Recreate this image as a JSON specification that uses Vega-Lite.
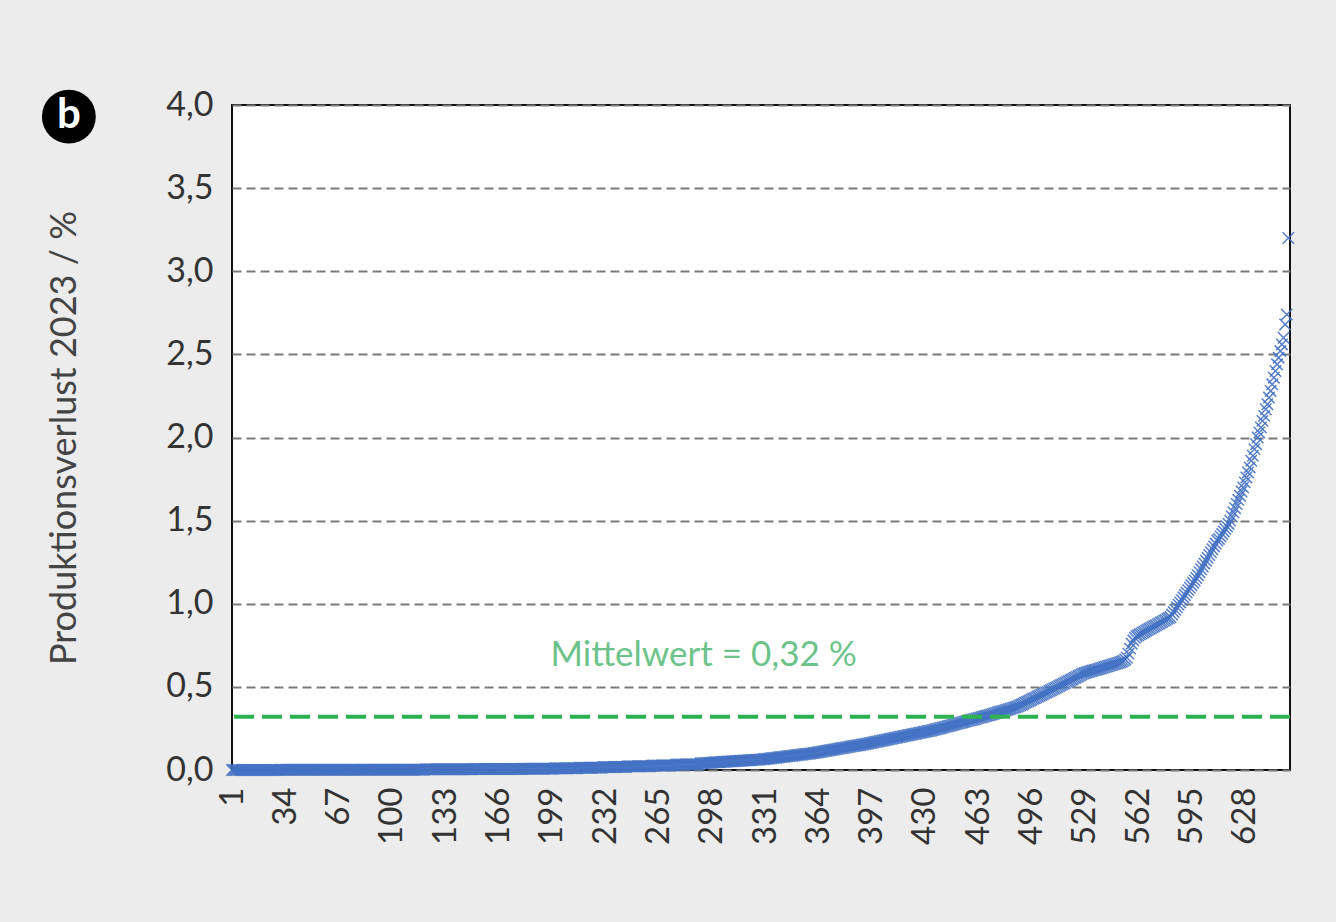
{
"$schema":"https://vega.github.io/schema/vega-lite/v6.json",
"width":1058,"height":665,
"autosize":{"type":"none"},
"padding":{"left":232,"top":105,"right":46,"bottom":152},
"background":"#ececec",
"config":{"view":{"fill":"white","stroke":"#111111","strokeWidth":2},"font":"Lato"},
"layer":[
{"data":{"values":[
{"n":1,"v":0},{"n":2,"v":0},{"n":3,"v":0},{"n":4,"v":0},{"n":5,"v":0},{"n":6,"v":0},{"n":7,"v":0},{"n":8,"v":0},{"n":9,"v":0},{"n":10,"v":0},
{"n":11,"v":0},{"n":12,"v":0},{"n":13,"v":0},{"n":14,"v":0},{"n":15,"v":0},{"n":16,"v":0},{"n":17,"v":0},{"n":18,"v":0},{"n":19,"v":0},{"n":20,"v":0},
{"n":21,"v":0},{"n":22,"v":0},{"n":23,"v":0},{"n":24,"v":0},{"n":25,"v":0},{"n":26,"v":0},{"n":27,"v":0},{"n":28,"v":0},{"n":29,"v":0},{"n":30,"v":0},
{"n":31,"v":0.001},{"n":32,"v":0.001},{"n":33,"v":0.001},{"n":34,"v":0.001},{"n":35,"v":0.001},{"n":36,"v":0.001},{"n":37,"v":0.001},{"n":38,"v":0.001},{"n":39,"v":0.001},{"n":40,"v":0.001},
{"n":41,"v":0.001},{"n":42,"v":0.001},{"n":43,"v":0.001},{"n":44,"v":0.001},{"n":45,"v":0.001},{"n":46,"v":0.001},{"n":47,"v":0.001},{"n":48,"v":0.001},{"n":49,"v":0.001},{"n":50,"v":0.001},
{"n":51,"v":0.001},{"n":52,"v":0.001},{"n":53,"v":0.001},{"n":54,"v":0.001},{"n":55,"v":0.001},{"n":56,"v":0.001},{"n":57,"v":0.001},{"n":58,"v":0.001},{"n":59,"v":0.001},{"n":60,"v":0.001},
{"n":61,"v":0.001},{"n":62,"v":0.001},{"n":63,"v":0.001},{"n":64,"v":0.001},{"n":65,"v":0.001},{"n":66,"v":0.001},{"n":67,"v":0.001},{"n":68,"v":0.001},{"n":69,"v":0.001},{"n":70,"v":0.001},
{"n":71,"v":0.001},{"n":72,"v":0.001},{"n":73,"v":0.001},{"n":74,"v":0.001},{"n":75,"v":0.001},{"n":76,"v":0.001},{"n":77,"v":0.001},{"n":78,"v":0.001},{"n":79,"v":0.001},{"n":80,"v":0.001},
{"n":81,"v":0.002},{"n":82,"v":0.002},{"n":83,"v":0.002},{"n":84,"v":0.002},{"n":85,"v":0.002},{"n":86,"v":0.002},{"n":87,"v":0.002},{"n":88,"v":0.002},{"n":89,"v":0.002},{"n":90,"v":0.002},
{"n":91,"v":0.002},{"n":92,"v":0.002},{"n":93,"v":0.002},{"n":94,"v":0.002},{"n":95,"v":0.002},{"n":96,"v":0.002},{"n":97,"v":0.002},{"n":98,"v":0.002},{"n":99,"v":0.002},{"n":100,"v":0.002},
{"n":101,"v":0.002},{"n":102,"v":0.002},{"n":103,"v":0.002},{"n":104,"v":0.002},{"n":105,"v":0.002},{"n":106,"v":0.002},{"n":107,"v":0.002},{"n":108,"v":0.002},{"n":109,"v":0.002},{"n":110,"v":0.002},
{"n":111,"v":0.002},{"n":112,"v":0.002},{"n":113,"v":0.002},{"n":114,"v":0.002},{"n":115,"v":0.002},{"n":116,"v":0.002},{"n":117,"v":0.002},{"n":118,"v":0.002},{"n":119,"v":0.002},{"n":120,"v":0.002},
{"n":121,"v":0.004},{"n":122,"v":0.004},{"n":123,"v":0.004},{"n":124,"v":0.004},{"n":125,"v":0.004},{"n":126,"v":0.004},{"n":127,"v":0.004},{"n":128,"v":0.004},{"n":129,"v":0.004},{"n":130,"v":0.004},
{"n":131,"v":0.004},{"n":132,"v":0.004},{"n":133,"v":0.004},{"n":134,"v":0.004},{"n":135,"v":0.004},{"n":136,"v":0.004},{"n":137,"v":0.004},{"n":138,"v":0.004},{"n":139,"v":0.004},{"n":140,"v":0.004},
{"n":141,"v":0.004},{"n":142,"v":0.004},{"n":143,"v":0.004},{"n":144,"v":0.004},{"n":145,"v":0.004},{"n":146,"v":0.004},{"n":147,"v":0.004},{"n":148,"v":0.004},{"n":149,"v":0.004},{"n":150,"v":0.004},
{"n":151,"v":0.006},{"n":152,"v":0.006},{"n":153,"v":0.006},{"n":154,"v":0.006},{"n":155,"v":0.006},{"n":156,"v":0.006},{"n":157,"v":0.006},{"n":158,"v":0.006},{"n":159,"v":0.006},{"n":160,"v":0.006},
{"n":161,"v":0.006},{"n":162,"v":0.006},{"n":163,"v":0.006},{"n":164,"v":0.006},{"n":165,"v":0.006},{"n":166,"v":0.006},{"n":167,"v":0.006},{"n":168,"v":0.006},{"n":169,"v":0.006},{"n":170,"v":0.006},
{"n":171,"v":0.006},{"n":172,"v":0.006},{"n":173,"v":0.006},{"n":174,"v":0.006},{"n":175,"v":0.006},{"n":176,"v":0.006},{"n":177,"v":0.006},{"n":178,"v":0.006},{"n":179,"v":0.006},{"n":180,"v":0.006},
{"n":181,"v":0.008},{"n":182,"v":0.008},{"n":183,"v":0.008},{"n":184,"v":0.008},{"n":185,"v":0.008},{"n":186,"v":0.008},{"n":187,"v":0.008},{"n":188,"v":0.008},{"n":189,"v":0.008},{"n":190,"v":0.008},
{"n":191,"v":0.008},{"n":192,"v":0.008},{"n":193,"v":0.008},{"n":194,"v":0.008},{"n":195,"v":0.008},{"n":196,"v":0.008},{"n":197,"v":0.008},{"n":198,"v":0.008},{"n":199,"v":0.008},{"n":200,"v":0.008},
{"n":201,"v":0.01},{"n":202,"v":0.01},{"n":203,"v":0.01},{"n":204,"v":0.01},{"n":205,"v":0.01},{"n":206,"v":0.01},{"n":207,"v":0.01},{"n":208,"v":0.01},{"n":209,"v":0.01},{"n":210,"v":0.01},
{"n":211,"v":0.01},{"n":212,"v":0.01},{"n":213,"v":0.01},{"n":214,"v":0.01},{"n":215,"v":0.01},{"n":216,"v":0.014},{"n":217,"v":0.014},{"n":218,"v":0.014},{"n":219,"v":0.014},{"n":220,"v":0.014},
{"n":221,"v":0.014},{"n":222,"v":0.014},{"n":223,"v":0.014},{"n":224,"v":0.014},{"n":225,"v":0.014},{"n":226,"v":0.014},{"n":227,"v":0.014},{"n":228,"v":0.014},{"n":229,"v":0.014},{"n":230,"v":0.014},
{"n":231,"v":0.018},{"n":232,"v":0.018},{"n":233,"v":0.018},{"n":234,"v":0.018},{"n":235,"v":0.018},{"n":236,"v":0.018},{"n":237,"v":0.018},{"n":238,"v":0.018},{"n":239,"v":0.018},{"n":240,"v":0.018},
{"n":241,"v":0.018},{"n":242,"v":0.018},{"n":243,"v":0.018},{"n":244,"v":0.018},{"n":245,"v":0.018},{"n":246,"v":0.022},{"n":247,"v":0.022},{"n":248,"v":0.022},{"n":249,"v":0.022},{"n":250,"v":0.022},
{"n":251,"v":0.022},{"n":252,"v":0.022},{"n":253,"v":0.022},{"n":254,"v":0.022},{"n":255,"v":0.022},{"n":256,"v":0.022},{"n":257,"v":0.022},{"n":258,"v":0.022},{"n":259,"v":0.022},{"n":260,"v":0.022},
{"n":261,"v":0.027},{"n":262,"v":0.027},{"n":263,"v":0.027},{"n":264,"v":0.027},{"n":265,"v":0.027},{"n":266,"v":0.027},{"n":267,"v":0.027},{"n":268,"v":0.027},{"n":269,"v":0.027},{"n":270,"v":0.027},
{"n":271,"v":0.027},{"n":272,"v":0.027},{"n":273,"v":0.027},{"n":274,"v":0.027},{"n":275,"v":0.027},{"n":276,"v":0.033},{"n":277,"v":0.033},{"n":278,"v":0.033},{"n":279,"v":0.033},{"n":280,"v":0.033},
{"n":281,"v":0.033},{"n":282,"v":0.033},{"n":283,"v":0.033},{"n":284,"v":0.033},{"n":285,"v":0.033},{"n":286,"v":0.033},{"n":287,"v":0.033},{"n":288,"v":0.033},{"n":289,"v":0.033},{"n":290,"v":0.033},
{"n":291,"v":0.040},{"n":292,"v":0.041},{"n":293,"v":0.041},{"n":294,"v":0.042},{"n":295,"v":0.042},{"n":296,"v":0.043},{"n":297,"v":0.044},{"n":298,"v":0.044},{"n":299,"v":0.045},{"n":300,"v":0.046},
{"n":301,"v":0.046},{"n":302,"v":0.047},{"n":303,"v":0.047},{"n":304,"v":0.048},{"n":305,"v":0.049},{"n":306,"v":0.049},{"n":307,"v":0.050},{"n":308,"v":0.051},{"n":309,"v":0.051},{"n":310,"v":0.052},
{"n":311,"v":0.052},{"n":312,"v":0.053},{"n":313,"v":0.054},{"n":314,"v":0.054},{"n":315,"v":0.055},{"n":316,"v":0.056},{"n":317,"v":0.056},{"n":318,"v":0.057},{"n":319,"v":0.057},{"n":320,"v":0.058},
{"n":321,"v":0.059},{"n":322,"v":0.059},{"n":323,"v":0.060},{"n":324,"v":0.061},{"n":325,"v":0.061},{"n":326,"v":0.062},{"n":327,"v":0.062},{"n":328,"v":0.063},{"n":329,"v":0.064},{"n":330,"v":0.065},
{"n":331,"v":0.066},{"n":332,"v":0.067},{"n":333,"v":0.068},{"n":334,"v":0.069},{"n":335,"v":0.071},{"n":336,"v":0.072},{"n":337,"v":0.073},{"n":338,"v":0.074},{"n":339,"v":0.075},{"n":340,"v":0.077},
{"n":341,"v":0.078},{"n":342,"v":0.079},{"n":343,"v":0.080},{"n":344,"v":0.081},{"n":345,"v":0.083},{"n":346,"v":0.084},{"n":347,"v":0.085},{"n":348,"v":0.086},{"n":349,"v":0.087},{"n":350,"v":0.089},
{"n":351,"v":0.090},{"n":352,"v":0.091},{"n":353,"v":0.092},{"n":354,"v":0.093},{"n":355,"v":0.095},{"n":356,"v":0.096},{"n":357,"v":0.097},{"n":358,"v":0.098},{"n":359,"v":0.099},{"n":360,"v":0.100},
{"n":361,"v":0.102},{"n":362,"v":0.103},{"n":363,"v":0.105},{"n":364,"v":0.107},{"n":365,"v":0.108},{"n":366,"v":0.110},{"n":367,"v":0.112},{"n":368,"v":0.114},{"n":369,"v":0.115},{"n":370,"v":0.117},
{"n":371,"v":0.119},{"n":372,"v":0.120},{"n":373,"v":0.122},{"n":374,"v":0.124},{"n":375,"v":0.125},{"n":376,"v":0.127},{"n":377,"v":0.129},{"n":378,"v":0.131},{"n":379,"v":0.132},{"n":380,"v":0.134},
{"n":381,"v":0.136},{"n":382,"v":0.137},{"n":383,"v":0.139},{"n":384,"v":0.141},{"n":385,"v":0.143},{"n":386,"v":0.144},{"n":387,"v":0.146},{"n":388,"v":0.148},{"n":389,"v":0.149},{"n":390,"v":0.151},
{"n":391,"v":0.153},{"n":392,"v":0.154},{"n":393,"v":0.156},{"n":394,"v":0.158},{"n":395,"v":0.160},{"n":396,"v":0.162},{"n":397,"v":0.164},{"n":398,"v":0.166},{"n":399,"v":0.168},{"n":400,"v":0.170},
{"n":401,"v":0.172},{"n":402,"v":0.174},{"n":403,"v":0.176},{"n":404,"v":0.178},{"n":405,"v":0.180},{"n":406,"v":0.182},{"n":407,"v":0.184},{"n":408,"v":0.186},{"n":409,"v":0.188},{"n":410,"v":0.190},
{"n":411,"v":0.192},{"n":412,"v":0.194},{"n":413,"v":0.196},{"n":414,"v":0.198},{"n":415,"v":0.200},{"n":416,"v":0.202},{"n":417,"v":0.204},{"n":418,"v":0.206},{"n":419,"v":0.208},{"n":420,"v":0.210},
{"n":421,"v":0.212},{"n":422,"v":0.214},{"n":423,"v":0.216},{"n":424,"v":0.218},{"n":425,"v":0.220},{"n":426,"v":0.222},{"n":427,"v":0.224},{"n":428,"v":0.226},{"n":429,"v":0.228},{"n":430,"v":0.230},
{"n":431,"v":0.232},{"n":432,"v":0.234},{"n":433,"v":0.236},{"n":434,"v":0.238},{"n":435,"v":0.240},{"n":436,"v":0.243},{"n":437,"v":0.245},{"n":438,"v":0.248},{"n":439,"v":0.250},{"n":440,"v":0.253},
{"n":441,"v":0.256},{"n":442,"v":0.258},{"n":443,"v":0.261},{"n":444,"v":0.263},{"n":445,"v":0.266},{"n":446,"v":0.268},{"n":447,"v":0.271},{"n":448,"v":0.274},{"n":449,"v":0.276},{"n":450,"v":0.279},
{"n":451,"v":0.281},{"n":452,"v":0.284},{"n":453,"v":0.286},{"n":454,"v":0.289},{"n":455,"v":0.292},{"n":456,"v":0.294},{"n":457,"v":0.297},{"n":458,"v":0.299},{"n":459,"v":0.302},{"n":460,"v":0.304},
{"n":461,"v":0.307},{"n":462,"v":0.310},{"n":463,"v":0.312},{"n":464,"v":0.315},{"n":465,"v":0.317},{"n":466,"v":0.320},{"n":467,"v":0.323},{"n":468,"v":0.326},{"n":469,"v":0.328},{"n":470,"v":0.331},
{"n":471,"v":0.334},{"n":472,"v":0.337},{"n":473,"v":0.340},{"n":474,"v":0.343},{"n":475,"v":0.346},{"n":476,"v":0.349},{"n":477,"v":0.352},{"n":478,"v":0.354},{"n":479,"v":0.357},{"n":480,"v":0.360},
{"n":481,"v":0.363},{"n":482,"v":0.366},{"n":483,"v":0.369},{"n":484,"v":0.372},{"n":485,"v":0.375},{"n":486,"v":0.377},{"n":487,"v":0.380},{"n":488,"v":0.385},{"n":489,"v":0.390},{"n":490,"v":0.394},
{"n":491,"v":0.399},{"n":492,"v":0.404},{"n":493,"v":0.409},{"n":494,"v":0.413},{"n":495,"v":0.418},{"n":496,"v":0.423},{"n":497,"v":0.428},{"n":498,"v":0.432},{"n":499,"v":0.437},{"n":500,"v":0.442},
{"n":501,"v":0.447},{"n":502,"v":0.451},{"n":503,"v":0.456},{"n":504,"v":0.461},{"n":505,"v":0.466},{"n":506,"v":0.470},{"n":507,"v":0.475},{"n":508,"v":0.480},{"n":509,"v":0.485},{"n":510,"v":0.490},
{"n":511,"v":0.495},{"n":512,"v":0.500},{"n":513,"v":0.505},{"n":514,"v":0.510},{"n":515,"v":0.515},{"n":516,"v":0.520},{"n":517,"v":0.525},{"n":518,"v":0.530},{"n":519,"v":0.535},{"n":520,"v":0.540},
{"n":521,"v":0.545},{"n":522,"v":0.550},{"n":523,"v":0.555},{"n":524,"v":0.560},{"n":525,"v":0.565},{"n":526,"v":0.570},{"n":527,"v":0.575},{"n":528,"v":0.580},{"n":529,"v":0.583},{"n":530,"v":0.586},
{"n":531,"v":0.589},{"n":532,"v":0.592},{"n":533,"v":0.595},{"n":534,"v":0.598},{"n":535,"v":0.601},{"n":536,"v":0.603},{"n":537,"v":0.606},{"n":538,"v":0.609},{"n":539,"v":0.612},{"n":540,"v":0.615},
{"n":541,"v":0.618},{"n":542,"v":0.621},{"n":543,"v":0.624},{"n":544,"v":0.627},{"n":545,"v":0.630},{"n":546,"v":0.633},{"n":547,"v":0.636},{"n":548,"v":0.639},{"n":549,"v":0.642},{"n":550,"v":0.645},
{"n":551,"v":0.648},{"n":552,"v":0.652},{"n":553,"v":0.658},{"n":554,"v":0.665},{"n":555,"v":0.675},{"n":556,"v":0.700},{"n":557,"v":0.730},{"n":558,"v":0.760},{"n":559,"v":0.780},{"n":560,"v":0.795},
{"n":561,"v":0.805},{"n":562,"v":0.810},{"n":563,"v":0.816},{"n":564,"v":0.821},{"n":565,"v":0.827},{"n":566,"v":0.832},{"n":567,"v":0.838},{"n":568,"v":0.843},{"n":569,"v":0.849},{"n":570,"v":0.854},
{"n":571,"v":0.860},{"n":572,"v":0.865},{"n":573,"v":0.870},{"n":574,"v":0.876},{"n":575,"v":0.881},{"n":576,"v":0.887},{"n":577,"v":0.892},{"n":578,"v":0.898},{"n":579,"v":0.903},{"n":580,"v":0.909},
{"n":581,"v":0.914},{"n":582,"v":0.920},{"n":583,"v":0.935},{"n":584,"v":0.950},{"n":585,"v":0.964},{"n":586,"v":0.979},{"n":587,"v":0.994},{"n":588,"v":1.008},{"n":589,"v":1.023},{"n":590,"v":1.038},
{"n":591,"v":1.052},{"n":592,"v":1.067},{"n":593,"v":1.082},{"n":594,"v":1.096},{"n":595,"v":1.111},{"n":596,"v":1.126},{"n":597,"v":1.140},{"n":598,"v":1.155},{"n":599,"v":1.172},{"n":600,"v":1.190},
{"n":601,"v":1.207},{"n":602,"v":1.224},{"n":603,"v":1.241},{"n":604,"v":1.259},{"n":605,"v":1.276},{"n":606,"v":1.293},{"n":607,"v":1.310},{"n":608,"v":1.328},{"n":609,"v":1.345},{"n":610,"v":1.362},
{"n":611,"v":1.380},{"n":612,"v":1.390},{"n":613,"v":1.405},{"n":614,"v":1.420},{"n":615,"v":1.435},{"n":616,"v":1.450},{"n":617,"v":1.465},{"n":618,"v":1.480},{"n":619,"v":1.500},{"n":620,"v":1.525},
{"n":621,"v":1.550},{"n":622,"v":1.575},{"n":623,"v":1.600},{"n":624,"v":1.625},{"n":625,"v":1.650},{"n":626,"v":1.675},{"n":627,"v":1.700},{"n":628,"v":1.730},{"n":629,"v":1.760},{"n":630,"v":1.790},
{"n":631,"v":1.820},{"n":632,"v":1.860},{"n":633,"v":1.890},{"n":634,"v":1.930},{"n":635,"v":1.960},{"n":636,"v":2.000},{"n":637,"v":2.030},{"n":638,"v":2.060},{"n":639,"v":2.100},{"n":640,"v":2.130},
{"n":641,"v":2.170},{"n":642,"v":2.200},{"n":643,"v":2.240},{"n":644,"v":2.280},{"n":645,"v":2.320},{"n":646,"v":2.360},{"n":647,"v":2.400},{"n":648,"v":2.440},{"n":649,"v":2.480},{"n":650,"v":2.520},
{"n":651,"v":2.560},{"n":652,"v":2.600},{"n":653,"v":2.680},{"n":654,"v":2.740},{"n":655,"v":3.200}
]},
"mark":{"type":"point","shape":"M-1,-1L1,1M-1,1L1,-1","filled":false,"stroke":"#4472c4","strokeWidth":1.5,"size":130,"opacity":0.9},
"encoding":{
"x":{"field":"n","type":"quantitative","scale":{"domain":[1,656],"nice":false,"zero":false},
"axis":{"values":[1,34,67,100,133,166,199,232,265,298,331,364,397,430,463,496,529,562,595,628],"labelAngle":-90,"labelFontSize":33,"labelColor":"#333333","labelPadding":17,"ticks":false,"domain":false,"grid":false,"title":null,"labelOverlap":false,"labelFlush":false}},
"y":{"field":"v","type":"quantitative","scale":{"domain":[0,4],"nice":false},
"axis":{"values":[0,0.5,1,1.5,2,2.5,3,3.5,4],"labelExpr":"replace(format(datum.value,'.1f'),'.',',')","labelFontSize":34,"labelColor":"#333333","labelPadding":19,"ticks":false,"domain":false,"grid":true,"gridColor":"#7a7a7a","gridDash":[9,5],"gridWidth":2,"title":"Produktionsverlust 2023 / %","titleFontSize":36,"titleFontWeight":"normal","titleColor":"#444444","titlePadding":82,"labelFlush":false}}
}},
{"data":{"values":[{"m":0.32}]},
"mark":{"type":"rule","color":"#2fb24f","strokeWidth":4,"strokeDash":[20,8]},
"encoding":{"y":{"field":"m","type":"quantitative"}}},
{"data":{"values":[{"t":"Mittelwert = 0,32 %"}]},
"mark":{"type":"text","color":"#6cc38a","fontSize":35,"align":"center","baseline":"middle"},
"encoding":{"text":{"field":"t"},"x":{"datum":293},"y":{"datum":0.69}}},
{"data":{"values":[{"t":"b"}]},
"mark":{"type":"point","shape":"circle","filled":true,"color":"#000000","size":2900,"opacity":1},
"encoding":{"x":{"datum":-100},"y":{"datum":3.93}}},
{"data":{"values":[{"t":"b"}]},
"mark":{"type":"text","color":"#ffffff","fontSize":42,"fontWeight":"bold","align":"center","baseline":"middle","dy":-2},
"encoding":{"text":{"field":"t"},"x":{"datum":-100},"y":{"datum":3.93}}}
]
}
